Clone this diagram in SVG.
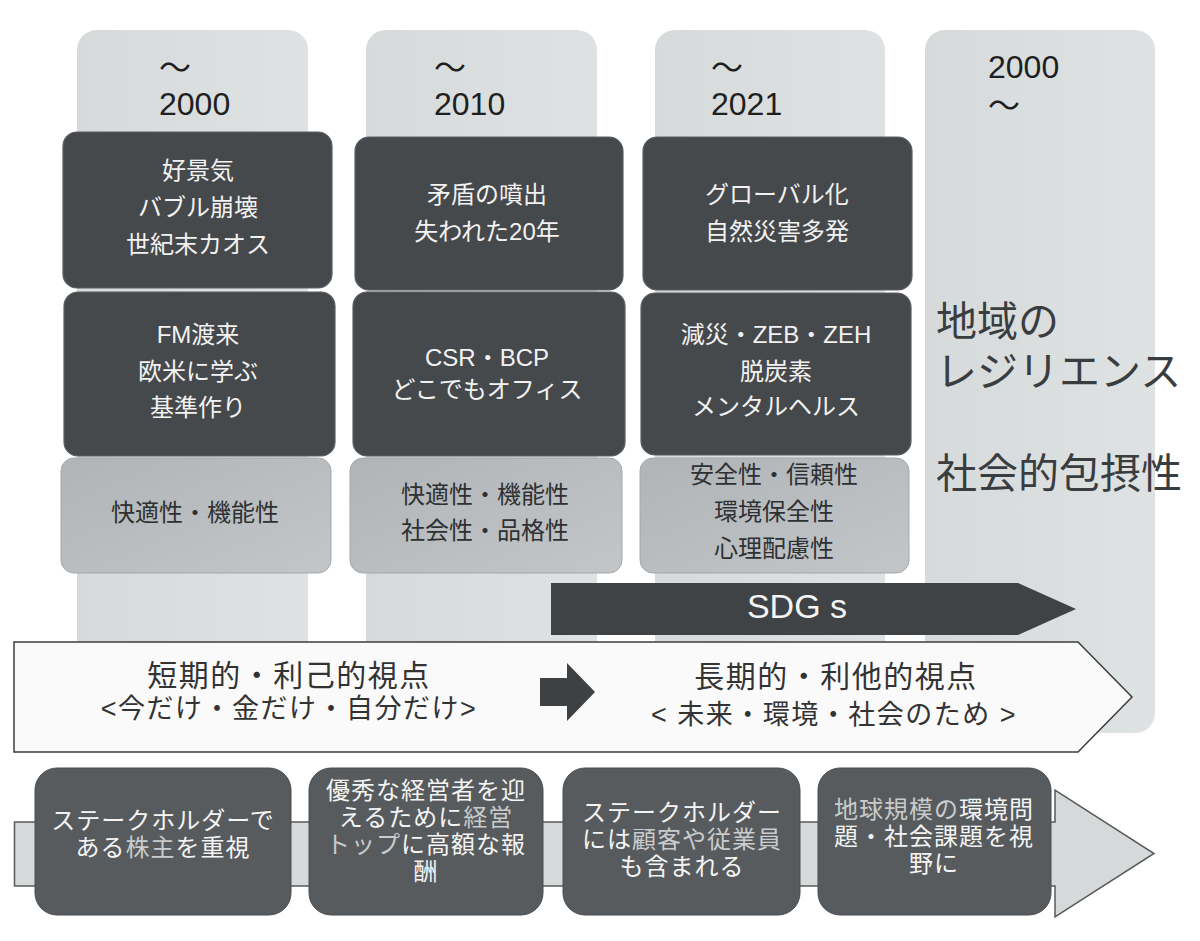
<svg xmlns="http://www.w3.org/2000/svg" width="1200" height="941" viewBox="0 0 1200 941">
<defs>
<linearGradient id="gCol" x1="0" y1="0" x2="1" y2="0"><stop offset="0" stop-color="#d6dadb"/><stop offset="1" stop-color="#dfe2e3"/></linearGradient>
<linearGradient id="gMid" x1="0" y1="0" x2="1" y2="1"><stop offset="0" stop-color="#b0b4b6"/><stop offset="1" stop-color="#c3c6c8"/></linearGradient>
<style>
.col{fill:url(#gCol)}
.dark{fill:#46494c;stroke:#5b5f62;stroke-width:1.2}
.mid{fill:url(#gMid);stroke:#a4a8aa;stroke-width:1}
.bot{fill:#575b5e;stroke:#4a4d50;stroke-width:1}
.jw{font-family:"Liberation Sans","Noto Sans CJK JP",sans-serif;fill:#f2f2f2;font-size:24px;text-anchor:middle}
.jd{font-family:"Liberation Sans","Noto Sans CJK JP",sans-serif;fill:#2e3133;font-size:24px;text-anchor:middle}
.jb{font-family:"Liberation Sans","Noto Sans CJK JP",sans-serif;fill:#f4f4f4;font-size:24px;letter-spacing:1px;text-anchor:middle}
.lt{fill:#c9cbcc}
.big{font-family:"Liberation Sans","Noto Sans CJK JP",sans-serif;fill:#3a3d3f;font-size:41px}
.yr{font-family:"Liberation Sans","Noto Sans CJK JP",sans-serif;fill:#1e1f20;font-size:32px}
.tl{font-family:"Liberation Sans","Noto Sans CJK JP",sans-serif;fill:#1e1f20;font-size:32px}
.ban{font-family:"Liberation Sans","Noto Sans CJK JP",sans-serif;fill:#333;text-anchor:middle}
</style>
</defs>
<rect width="1200" height="941" fill="#ffffff"/>

<g id="columns">
<rect class="col" x="77" y="30" width="231" height="680" rx="20"/>
<rect class="col" x="366" y="30" width="231" height="680" rx="20"/>
<rect class="col" x="655" y="30" width="230" height="680" rx="20"/>
<rect class="col" x="925" y="30" width="230" height="703" rx="20"/>
</g>

<g id="year1">
<text class="tl" x="159" y="79">～</text>
<text class="yr" x="159" y="115">2000</text>
</g>
<g id="year2">
<text class="tl" x="434" y="79">～</text>
<text class="yr" x="434" y="115">2010</text>
</g>
<g id="year3">
<text class="tl" x="711" y="79">～</text>
<text class="yr" x="711" y="115">2021</text>
</g>
<g id="year4">
<text class="yr" x="988" y="78">2000</text>
<text class="tl" x="988" y="117">～</text>
</g>

<g id="event1">
<rect class="dark" x="63" y="132" width="269" height="156" rx="14"/>
<text class="jw" x="198" y="179">好景気</text>
<text class="jw" x="198" y="216">バブル崩壊</text>
<text class="jw" x="198" y="253">世紀末カオス</text>
</g>
<g id="event2">
<rect class="dark" x="355" y="137" width="268" height="153" rx="14"/>
<text class="jw" x="487" y="203">矛盾の噴出</text>
<text class="jw" x="487" y="240">失われた20年</text>
</g>
<g id="event3">
<rect class="dark" x="643" y="137" width="269" height="153" rx="14"/>
<text class="jw" x="777" y="203">グローバル化</text>
<text class="jw" x="777" y="240">自然災害多発</text>
</g>

<g id="theme1">
<rect class="dark" x="64" y="292" width="271" height="164" rx="14"/>
<text class="jw" x="198" y="343">FM渡来</text>
<text class="jw" x="198" y="380">欧米に学ぶ</text>
<text class="jw" x="198" y="416">基準作り</text>
</g>
<g id="theme2">
<rect class="dark" x="353" y="292" width="272" height="164" rx="14"/>
<text class="jw" x="487" y="366">CSR・BCP</text>
<text class="jw" x="487" y="398">どこでもオフィス</text>
</g>
<g id="theme3">
<rect class="dark" x="641" y="293" width="270" height="162" rx="14"/>
<text class="jw" x="776" y="343">減災・ZEB・ZEH</text>
<text class="jw" x="776" y="380">脱炭素</text>
<text class="jw" x="776" y="415">メンタルヘルス</text>
</g>

<g id="value1">
<rect class="mid" x="61" y="458" width="270" height="115" rx="13"/>
<text class="jd" x="195" y="521">快適性・機能性</text>
</g>
<g id="value2">
<rect class="mid" x="350" y="458" width="272" height="115" rx="13"/>
<text class="jd" x="485" y="503">快適性・機能性</text>
<text class="jd" x="485" y="539">社会性・品格性</text>
</g>
<g id="value3">
<rect class="mid" x="640" y="458" width="269" height="115" rx="13"/>
<text class="jd" x="774" y="483">安全性・信頼性</text>
<text class="jd" x="774" y="520">環境保全性</text>
<text class="jd" x="774" y="557">心理配慮性</text>
</g>

<g id="future">
<text class="big" x="936" y="336">地域の</text>
<text class="big" x="936" y="386">レジリエンス</text>
<text class="big" x="936" y="488">社会的包摂性</text>
</g>

<g id="sdgs">
<polygon points="551,583 1018,583 1076,609 1018,635 551,635" fill="#3f4345"/>
<text x="797" y="618" font-family="Liberation Sans, sans-serif" font-size="34" fill="#f5f5f5" text-anchor="middle">SDG s</text>
</g>

<g id="banner">
<polygon points="14,642 1078,642 1132,697 1078,752 14,752" fill="#fafafa" stroke="#3c3c3c" stroke-width="1.5"/>
<text class="ban" x="289" y="686" font-size="30" letter-spacing="1.5">短期的・利己的視点</text>
<text class="ban" x="289" y="718" font-size="27" letter-spacing="1.5">&lt;今だけ・金だけ・自分だけ&gt;</text>
<text class="ban" x="836" y="687" font-size="30" letter-spacing="1.5">長期的・利他的視点</text>
<text class="ban" x="834" y="724" font-size="27" letter-spacing="1.5" xml:space="preserve">&lt; 未来・環境・社会のため &gt;</text>
</g>

<g id="connectors">
<polygon points="540,678 567,678 567,663 595,692 567,721 567,706 540,706" fill="#3d4143"/>
</g>

<g id="process">
<polygon points="14.5,822 1055,822 1055,790 1154,853.5 1055,917 1055,886 14.5,886" fill="#d6d9da" stroke="#5a5a5a" stroke-width="1.5"/>
</g>

<g id="step1">
<rect class="bot" x="35" y="768" width="256" height="147" rx="22"/>
<text class="jb" x="163" y="829">ステークホルダーで</text>
<text class="jb" x="163" y="856">ある<tspan class="lt">株主</tspan>を重視</text>
</g>
<g id="step2">
<rect class="bot" x="309" y="768" width="234" height="147" rx="22"/>
<text class="jb" x="426" y="799">優秀な経営者を迎</text>
<text class="jb" x="426" y="826">えるために<tspan class="lt">経営</tspan></text>
<text class="jb" x="426" y="853"><tspan class="lt">トップ</tspan>に高額な報</text>
<text class="jb" x="426" y="880">酬</text>
</g>
<g id="step3">
<rect class="bot" x="563" y="768" width="237" height="147" rx="22"/>
<text class="jb" x="682" y="821">ステークホルダー</text>
<text class="jb" x="682" y="848">には<tspan class="lt">顧客や従業員</tspan></text>
<text class="jb" x="682" y="875">も含まれる</text>
</g>
<g id="step4">
<rect class="bot" x="818" y="768" width="233" height="147" rx="22"/>
<text class="jb" x="934" y="818"><tspan class="lt">地球規模の</tspan>環境問</text>
<text class="jb" x="934" y="845">題・社会課題を視</text>
<text class="jb" x="934" y="872">野に</text>
</g>
</svg>
